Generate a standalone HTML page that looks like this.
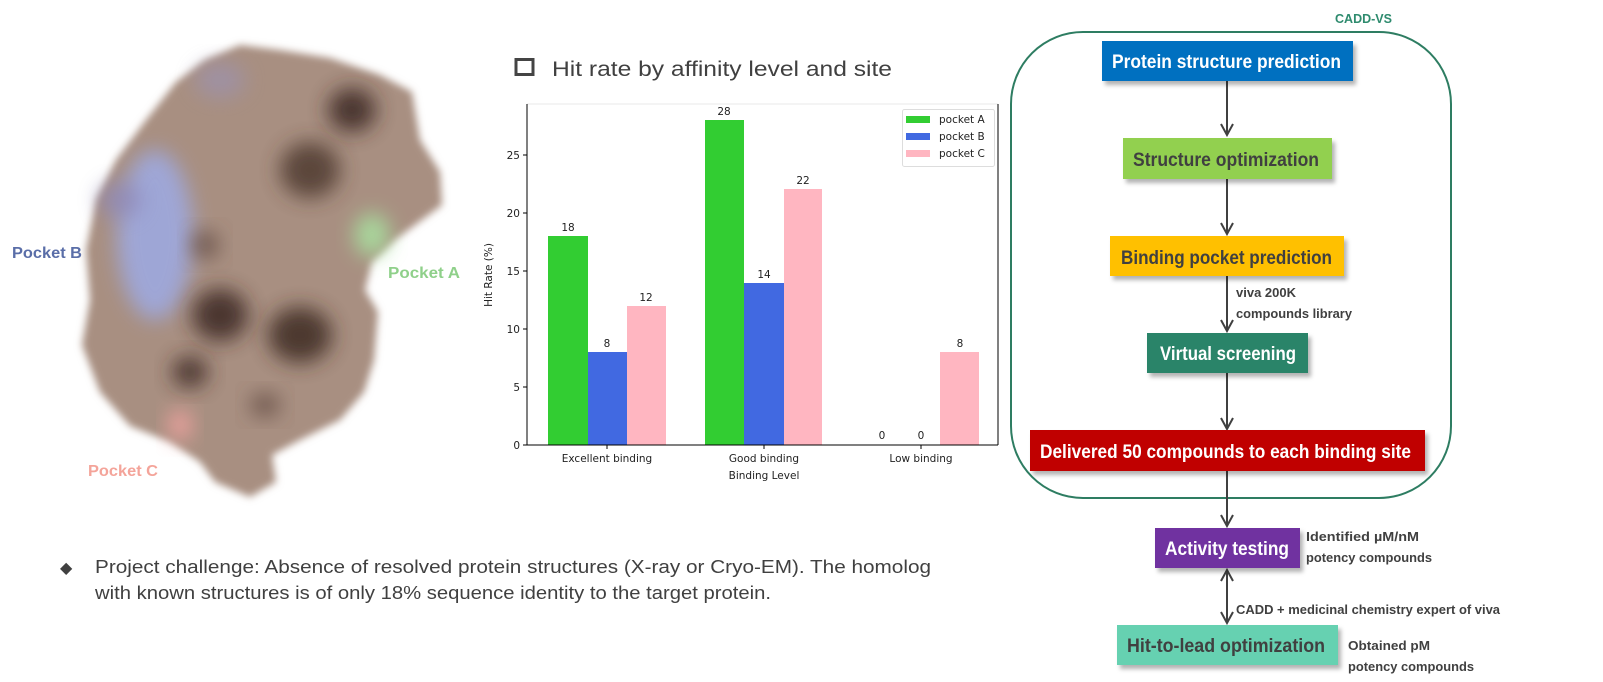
<!DOCTYPE html>
<html><head><meta charset="utf-8"><style>
html,body{margin:0;padding:0;background:#fff;}
svg{display:block;}
</style></head><body>
<svg width="1603" height="682" viewBox="0 0 1603 682" xmlns="http://www.w3.org/2000/svg" font-family="Liberation Sans, sans-serif">
<defs>
<filter id="b4" x="-20%" y="-20%" width="140%" height="140%"><feGaussianBlur stdDeviation="4"/></filter>
<filter id="b10" x="-50%" y="-50%" width="200%" height="200%"><feGaussianBlur stdDeviation="10"/></filter>
<filter id="sh" x="-10%" y="-30%" width="130%" height="180%"><feDropShadow dx="3" dy="4" stdDeviation="2" flood-color="#000" flood-opacity="0.3"/></filter>
</defs>
<!-- protein -->
<g>
<polygon filter="url(#b4)" fill="#a88f81" points="240,45 280,50 330,58 380,75 412,92 420,140 440,172 442,205 415,225 395,240 372,262 365,290 378,312 374,360 364,392 340,420 300,440 272,455 276,482 250,497 215,482 200,462 170,442 130,426 100,392 82,345 90,300 86,250 96,200 116,160 146,120 176,82 205,60"/>
<ellipse cx="155" cy="235" rx="38" ry="85" fill="#9ea9e0" filter="url(#b10)" opacity="0.9"/>
<ellipse cx="120" cy="200" rx="22" ry="18" fill="#8d87b8" filter="url(#b10)" opacity="0.7"/>
<ellipse cx="220" cy="80" rx="25" ry="18" fill="#9a93b8" filter="url(#b10)" opacity="0.6"/>
<ellipse cx="352" cy="110" rx="24" ry="22" fill="#3a2620" filter="url(#b10)" opacity="0.85"/>
<ellipse cx="310" cy="170" rx="30" ry="28" fill="#4a342c" filter="url(#b10)" opacity="0.8"/>
<ellipse cx="220" cy="315" rx="28" ry="26" fill="#3a2620" filter="url(#b10)" opacity="0.85"/>
<ellipse cx="300" cy="335" rx="32" ry="28" fill="#3e2a22" filter="url(#b10)" opacity="0.85"/>
<ellipse cx="190" cy="372" rx="18" ry="16" fill="#3a2620" filter="url(#b10)" opacity="0.8"/>
<ellipse cx="205" cy="245" rx="14" ry="14" fill="#5a423a" filter="url(#b10)" opacity="0.7"/>
<ellipse cx="265" cy="405" rx="15" ry="12" fill="#5a423a" filter="url(#b10)" opacity="0.7"/>
<ellipse cx="372" cy="235" rx="18" ry="22" fill="#a9e3a0" filter="url(#b10)" opacity="0.85"/>
<ellipse cx="180" cy="425" rx="12" ry="16" fill="#f2a3a0" filter="url(#b10)" opacity="0.9"/>
</g>
<text x="12" y="258" font-size="16" font-weight="bold" fill="#5a6ea8" textLength="70" lengthAdjust="spacingAndGlyphs">Pocket B</text>
<text x="388" y="278" font-size="16" font-weight="bold" fill="#8fd08a" textLength="72" lengthAdjust="spacingAndGlyphs">Pocket A</text>
<text x="88" y="476" font-size="16" font-weight="bold" fill="#f4a49a" textLength="70" lengthAdjust="spacingAndGlyphs">Pocket C</text>

<!-- title -->
<rect x="516" y="59.5" width="17" height="15" fill="none" stroke="#444" stroke-width="3"/>
<text x="552" y="76" font-size="21" fill="#404040" textLength="340" lengthAdjust="spacingAndGlyphs">Hit rate by affinity level and site</text>

<!-- chart -->
<g font-family="DejaVu Sans, sans-serif" font-size="10.5" fill="#222">
<line x1="527" y1="104" x2="998" y2="104" stroke="#e8e8e8" stroke-width="1"/>
<rect x="548" y="236" width="40" height="209" fill="#32cd32"/>
<rect x="588" y="352" width="39" height="93" fill="#4169e1"/>
<rect x="627" y="306" width="39" height="139" fill="#ffb6c1"/>
<rect x="705" y="120" width="39" height="325" fill="#32cd32"/>
<rect x="744" y="283" width="40" height="162" fill="#4169e1"/>
<rect x="784" y="189" width="38" height="256" fill="#ffb6c1"/>
<rect x="940" y="352" width="39" height="93" fill="#ffb6c1"/>
<g text-anchor="middle">
<text x="568" y="231">18</text><text x="607" y="347">8</text><text x="646" y="301">12</text>
<text x="724" y="115">28</text><text x="764" y="278">14</text><text x="803" y="184">22</text>
<text x="882" y="439">0</text><text x="921" y="439">0</text><text x="960" y="347">8</text>
<text x="607" y="462">Excellent binding</text><text x="764" y="462">Good binding</text><text x="921" y="462">Low binding</text>
<text x="764" y="479">Binding Level</text>
</g>
<line x1="527" y1="104" x2="527" y2="445" stroke="#000"/>
<line x1="527" y1="445" x2="998" y2="445" stroke="#000"/>
<line x1="998" y1="104" x2="998" y2="445" stroke="#000"/>
<g stroke="#000"><line x1="523" y1="445" x2="527" y2="445"/><line x1="523" y1="387" x2="527" y2="387"/><line x1="523" y1="329" x2="527" y2="329"/><line x1="523" y1="271" x2="527" y2="271"/><line x1="523" y1="213" x2="527" y2="213"/><line x1="523" y1="155" x2="527" y2="155"/>
<line x1="607" y1="445" x2="607" y2="449"/><line x1="764" y1="445" x2="764" y2="449"/><line x1="921" y1="445" x2="921" y2="449"/></g>
<g text-anchor="end"><text x="520" y="449">0</text><text x="520" y="391">5</text><text x="520" y="333">10</text><text x="520" y="275">15</text><text x="520" y="217">20</text><text x="520" y="159">25</text></g>
<text transform="translate(492,275) rotate(-90)" text-anchor="middle">Hit Rate (%)</text>
<rect x="902.5" y="109.5" width="92" height="57" rx="2" fill="#fff" stroke="#ddd"/>
<rect x="906" y="116" width="24" height="7" fill="#32cd32"/><text x="939" y="123">pocket A</text>
<rect x="906" y="133" width="24" height="7" fill="#4169e1"/><text x="939" y="140">pocket B</text>
<rect x="906" y="150" width="24" height="7" fill="#ffb6c1"/><text x="939" y="157">pocket C</text>
</g>

<!-- bullet text -->
<text x="60" y="573" font-size="16" fill="#404040">◆</text>
<text x="95" y="573" font-size="18" fill="#404040" textLength="836" lengthAdjust="spacingAndGlyphs">Project challenge: Absence of resolved protein structures (X-ray or Cryo-EM). The homolog</text>
<text x="95" y="599" font-size="18" fill="#404040" textLength="676" lengthAdjust="spacingAndGlyphs">with known structures is of only 18% sequence identity to the target protein.</text>

<!-- flowchart -->
<text x="1335" y="23" font-size="13" font-weight="bold" fill="#2e8b6e" textLength="57" lengthAdjust="spacingAndGlyphs">CADD-VS</text>
<rect x="1011" y="32" width="440" height="466" rx="72" fill="none" stroke="#2e7d62" stroke-width="2"/>
<g stroke="#404040" stroke-width="2" fill="none">
<line x1="1227" y1="81" x2="1227" y2="135"/><polyline points="1221,124 1227,135 1233,124"/>
<line x1="1227" y1="179" x2="1227" y2="234"/><polyline points="1221,223 1227,234 1233,223"/>
<line x1="1227" y1="276" x2="1227" y2="331"/><polyline points="1221,320 1227,331 1233,320"/>
<line x1="1227" y1="373" x2="1227" y2="429"/><polyline points="1221,418 1227,429 1233,418"/>
<line x1="1227" y1="471" x2="1227" y2="526"/><polyline points="1221,515 1227,526 1233,515"/>
<line x1="1227" y1="570" x2="1227" y2="623"/><polyline points="1221,612 1227,623 1233,612"/><polyline points="1221,581 1227,570 1233,581"/>
</g>
<g font-weight="bold" font-size="19">
<rect x="1102" y="41" width="251" height="40" fill="#0070c0" filter="url(#sh)"/>
<text x="1112" y="68" fill="#fff" textLength="229" lengthAdjust="spacingAndGlyphs">Protein structure prediction</text>
<rect x="1123" y="138" width="209" height="41" fill="#92d050" filter="url(#sh)"/>
<text x="1133" y="166" fill="#404040" textLength="186" lengthAdjust="spacingAndGlyphs">Structure optimization</text>
<rect x="1110" y="236" width="234" height="40" fill="#ffc000" filter="url(#sh)"/>
<text x="1121" y="264" fill="#404040" textLength="211" lengthAdjust="spacingAndGlyphs">Binding pocket prediction</text>
<rect x="1147" y="333" width="161" height="40" fill="#2a8469" filter="url(#sh)"/>
<text x="1160" y="360" fill="#fff" textLength="136" lengthAdjust="spacingAndGlyphs">Virtual screening</text>
<rect x="1030" y="430" width="395" height="41" fill="#c00000" filter="url(#sh)"/>
<text x="1040" y="458" fill="#fff" textLength="371" lengthAdjust="spacingAndGlyphs">Delivered 50 compounds to each binding site</text>
<rect x="1155" y="528" width="145" height="40" fill="#7030a0" filter="url(#sh)"/>
<text x="1165" y="555" fill="#fff" textLength="124" lengthAdjust="spacingAndGlyphs">Activity testing</text>
<rect x="1117" y="625" width="221" height="40" fill="#66d1b1" filter="url(#sh)"/>
<text x="1127" y="652" fill="#404040" textLength="198" lengthAdjust="spacingAndGlyphs">Hit-to-lead optimization</text>
</g>
<g font-weight="bold" font-size="12.5" fill="#404040">
<text x="1236" y="297" textLength="60" lengthAdjust="spacingAndGlyphs">viva 200K</text>
<text x="1236" y="318" textLength="116" lengthAdjust="spacingAndGlyphs">compounds library</text>
<text x="1306" y="541" textLength="113" lengthAdjust="spacingAndGlyphs">Identified µM/nM</text>
<text x="1306" y="562" textLength="126" lengthAdjust="spacingAndGlyphs">potency compounds</text>
<text x="1236" y="614" textLength="264" lengthAdjust="spacingAndGlyphs">CADD + medicinal chemistry expert of viva</text>
<text x="1348" y="650" textLength="82" lengthAdjust="spacingAndGlyphs">Obtained pM</text>
<text x="1348" y="671" textLength="126" lengthAdjust="spacingAndGlyphs">potency compounds</text>
</g>
</svg>
</body></html>
